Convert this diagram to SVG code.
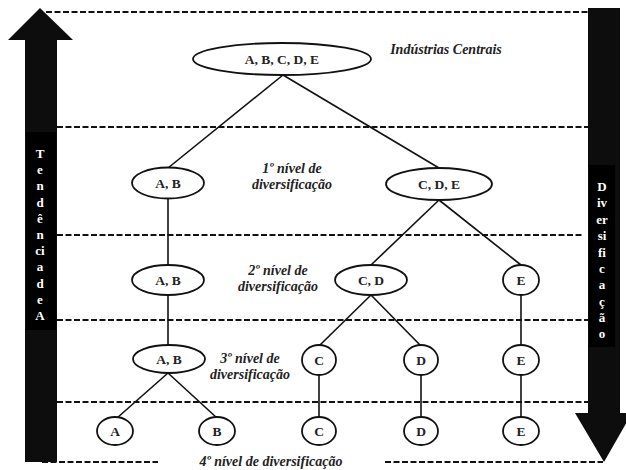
<svg xmlns="http://www.w3.org/2000/svg" width="626" height="470" viewBox="0 0 626 470">
<style>
.dash{stroke:#111;stroke-width:2;stroke-dasharray:6,2.5;fill:none}
.edge{stroke:#111;stroke-width:1.6;fill:none}
.node{fill:#fff;stroke:#111;stroke-width:1.8}
.nt{font-family:"Liberation Serif","Times New Roman",serif;font-weight:bold;font-size:13.5px;fill:#222;text-anchor:middle}
.lbl{font-family:"Liberation Serif","Times New Roman",serif;font-weight:bold;font-style:italic;font-size:14px;fill:#222;text-anchor:middle}
.vt{font-family:"Liberation Serif","Times New Roman",serif;font-weight:bold;font-size:13px;fill:#fff;text-anchor:middle}
</style>
<rect width="626" height="470" fill="#fff"/>
<g id="levels">
<line class="dash" x1="46" y1="12" x2="588" y2="12"/>
<line class="dash" x1="57" y1="127" x2="588" y2="127"/>
<line class="dash" x1="57" y1="235" x2="583" y2="235"/>
<line class="dash" x1="57" y1="320" x2="588" y2="320"/>
<line class="dash" x1="57" y1="402" x2="588" y2="402"/>
<line class="dash" x1="42" y1="462" x2="158" y2="462"/>
<line class="dash" x1="385" y1="462" x2="603" y2="462"/>
</g>
<g id="arrow-left">
<polygon points="40,8 73,40 57,40 57,462 25,462 25,40 8,40" fill="#0d0d0d"/>
<rect x="26" y="132" width="30" height="198" fill="#000"/>
<g class="vt">
<text x="40" y="158">T</text><text x="40" y="174">e</text><text x="40" y="190">n</text><text x="40" y="207">d</text><text x="40" y="223">ê</text><text x="40" y="239">n</text><text x="40" y="255">ci</text><text x="40" y="271">a</text><text x="40" y="288">d</text><text x="40" y="304">e</text><text x="40" y="320">A</text>
</g>
</g>
<g id="arrow-right">
<polygon points="588,8 620,8 620,413 632,413 604,462 575,413 588,413" fill="#0d0d0d"/>
<rect x="589" y="165" width="26" height="182" fill="#000"/>
<g class="vt">
<text x="602" y="191">D</text><text x="602" y="207">iv</text><text x="602" y="224">er</text><text x="602" y="240">si</text><text x="602" y="257">fi</text><text x="602" y="273">c</text><text x="602" y="289">a</text><text x="602" y="306">ç</text><text x="602" y="322">ã</text><text x="602" y="338">o</text>
</g>
</g>
<g id="connectors">
<line class="edge" x1="283" y1="75" x2="168" y2="168"/>
<line class="edge" x1="283" y1="75" x2="439" y2="168"/>
<line class="edge" x1="168" y1="199" x2="168" y2="265"/>
<line class="edge" x1="439" y1="200" x2="371" y2="265"/>
<line class="edge" x1="439" y1="200" x2="521" y2="265"/>
<line class="edge" x1="168" y1="295" x2="168" y2="346"/>
<line class="edge" x1="371" y1="295" x2="320" y2="345"/>
<line class="edge" x1="371" y1="295" x2="420" y2="345"/>
<line class="edge" x1="521" y1="295" x2="521" y2="345"/>
<line class="edge" x1="168" y1="373" x2="117" y2="418"/>
<line class="edge" x1="168" y1="373" x2="217" y2="418"/>
<line class="edge" x1="319" y1="375" x2="319" y2="417"/>
<line class="edge" x1="421" y1="375" x2="421" y2="417"/>
<line class="edge" x1="521" y1="375" x2="521" y2="417"/>
</g>
<g id="root"><ellipse class="node" cx="282" cy="59" rx="89" ry="16"/><text class="nt" x="282" y="64">A, B, C, D, E</text></g>
<g id="n1-ab"><ellipse class="node" cx="168" cy="183" rx="36" ry="15.5"/><text class="nt" x="168" y="188">A, B</text></g>
<g id="n1-cde"><ellipse class="node" cx="439" cy="184" rx="53" ry="16"/><text class="nt" x="439" y="189">C, D, E</text></g>
<g id="n2-ab"><ellipse class="node" cx="168" cy="280" rx="36" ry="15"/><text class="nt" x="168" y="285">A, B</text></g>
<g id="n2-cd"><ellipse class="node" cx="371" cy="280" rx="36" ry="15"/><text class="nt" x="371" y="285">C, D</text></g>
<g id="n2-e"><ellipse class="node" cx="521" cy="280" rx="18" ry="15"/><text class="nt" x="521" y="285">E</text></g>
<g id="n3-ab"><ellipse class="node" cx="169" cy="359" rx="36" ry="14"/><text class="nt" x="169" y="364">A, B</text></g>
<g id="n3-c"><ellipse class="node" cx="319" cy="360" rx="17" ry="15"/><text class="nt" x="319" y="365">C</text></g>
<g id="n3-d"><ellipse class="node" cx="421" cy="360" rx="17" ry="15"/><text class="nt" x="421" y="365">D</text></g>
<g id="n3-e"><ellipse class="node" cx="521" cy="360" rx="18" ry="15"/><text class="nt" x="521" y="365">E</text></g>
<g id="n4-a"><ellipse class="node" cx="115" cy="431" rx="18" ry="14"/><text class="nt" x="115" y="436">A</text></g>
<g id="n4-b"><ellipse class="node" cx="217" cy="431" rx="18" ry="14"/><text class="nt" x="217" y="436">B</text></g>
<g id="n4-c"><ellipse class="node" cx="319" cy="431" rx="17" ry="14"/><text class="nt" x="319" y="436">C</text></g>
<g id="n4-d"><ellipse class="node" cx="421" cy="431" rx="17" ry="14"/><text class="nt" x="421" y="436">D</text></g>
<g id="n4-e"><ellipse class="node" cx="521" cy="431" rx="18" ry="14"/><text class="nt" x="521" y="436">E</text></g>
<g id="labels">
<text class="lbl" x="446" y="54">Indústrias Centrais</text>
<text class="lbl" x="292" y="173">1º nível de</text>
<text class="lbl" x="292" y="189">diversificação</text>
<text class="lbl" x="278" y="275">2º nível de</text>
<text class="lbl" x="278" y="291">diversificação</text>
<text class="lbl" x="250" y="363">3º nível de</text>
<text class="lbl" x="250" y="379">diversificação</text>
<text class="lbl" x="271" y="466">4º nível de diversificação</text>
</g>
</svg>
